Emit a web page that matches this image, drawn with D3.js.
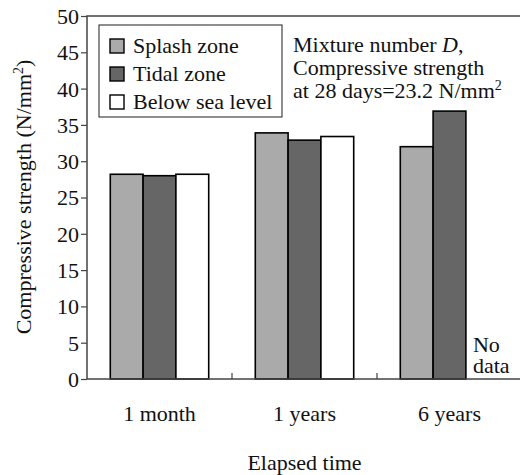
<!DOCTYPE html>
<html>
<head>
<meta charset="utf-8">
<script src="https://cdn.jsdelivr.net/npm/d3@7"></script>
</head>
<body style="margin:0;background:#fff">
<svg id="chart" width="520" height="475" font-family="Liberation Serif, Tinos, Times New Roman, FreeSerif, sans-serif"></svg>
<script>
// data
const periods = ["1 month", "1 years", "6 years"]
const zones = ["Splash zone", "Tidal zone", "Below sea level"]
const splash = [28.2, 33.9, 32.0]
const tidal = [28.0, 32.9, 36.9]
const below = [28.2, 33.4, null]   // no data at 6 years
const yTicks = [0, 5, 10, 15, 20, 25, 30, 35, 40, 45, 50]

const fills = ["#aaaaaa", "#666666", "#ffffff"]
const series = [splash, tidal, below]

const svg = d3.select("#chart")
const margin = { top: 16, right: -2, bottom: 96, left: 87 }
const width = 520, height = 475
const fs = 22

const x = d3.scaleBand()
    .domain(periods)
    .range([margin.left, width - margin.right])
    .padding(0)

const x1 = d3.scaleBand()
    .domain(zones)
    .range([0, x.bandwidth()])
    .paddingInner(0)
    .paddingOuter(0.71)

const y = d3.scaleLinear()
    .domain([0, 50])
    .range([height - margin.bottom, margin.top])

// bars
const rows = []
periods.forEach(function(p, i){
    zones.forEach(function(z, j){
        if (series[j][i] != null) rows.push({ p: p, z: z, v: series[j][i], fill: fills[j] })
    })
})

svg.append("g")
    .selectAll("rect")
    .data(rows)
    .enter()
    .append("rect")
    .attr("x", d => x(d.p) + x1(d.z))
    .attr("y", d => y(d.v))
    .attr("width", x1.bandwidth())
    .attr("height", d => y(0) - y(d.v))
    .attr("fill", d => d.fill)
    .attr("stroke", "#000")
    .attr("stroke-width", 1.6)

// frame
svg.append("rect")
    .attr("x", margin.left)
    .attr("y", margin.top)
    .attr("width", width - margin.right - margin.left)
    .attr("height", y(0) - margin.top)
    .attr("fill", "none")
    .attr("stroke", "#444")
    .attr("stroke-width", 1.5)

// y axis
const yAxis = svg.append("g")
    .attr("transform", `translate(${margin.left},0)`)
    .call(d3.axisLeft(y).tickValues(yTicks).tickSize(6).tickPadding(2))
yAxis.attr("font-family", null).attr("font-size", null)
yAxis.select(".domain").remove()
yAxis.selectAll("line").attr("stroke", "#444").attr("stroke-width", 1.2)
yAxis.selectAll("text").attr("dy", "0.34em")

// x axis: small inward ticks between groups, labels under group centres
svg.append("g")
    .selectAll("line")
    .data(periods.slice(1))
    .enter()
    .append("line")
    .attr("x1", d => x(d)).attr("x2", d => x(d))
    .attr("y1", y(0)).attr("y2", y(0) - 6)
    .attr("stroke", "#444")
    .attr("stroke-width", 1.2)

svg.append("g")
    .selectAll("text")
    .data(periods)
    .enter()
    .append("text")
    .attr("x", d => x(d) + x.bandwidth() / 2)
    .attr("y", 421)
    .attr("text-anchor", "middle")
    .text(d => d)

svg.append("text")
    .attr("x", x(periods[1]) + x.bandwidth() / 2)
    .attr("y", 470)
    .attr("text-anchor", "middle")
    .text("Elapsed time")

const yl = svg.append("text")
    .attr("transform", "translate(31,197) rotate(-90)")
    .attr("text-anchor", "middle")
yl.append("tspan").text("Compressive strength (N/mm")
yl.append("tspan").attr("class", "sup").attr("dy", -8).text("2")
yl.append("tspan").attr("dy", 8).text(")")

// legend
const legend = svg.append("g")
legend.append("rect")
    .attr("x", 99).attr("y", 25)
    .attr("width", 183).attr("height", 92)
    .attr("fill", "#fff")
    .attr("stroke", "#444")
    .attr("stroke-width", 1.2)

const li = legend.selectAll("g.item")
    .data(zones)
    .enter()
    .append("g")
    .attr("class", "item")
    .attr("transform", (d, i) => `translate(110,${39 + i * 28})`)
li.append("rect")
    .attr("width", 14).attr("height", 14)
    .attr("fill", (d, i) => fills[i])
    .attr("stroke", "#000")
    .attr("stroke-width", 1.4)
li.append("text")
    .attr("x", 23).attr("y", 14)
    .text(d => d)

// note
const note = svg.append("g")
const n1 = note.append("text").attr("x", 293).attr("y", 52)
n1.append("tspan").text("Mixture number ")
n1.append("tspan").attr("font-style", "italic").text("D")
n1.append("tspan").text(",")
note.append("text").attr("x", 293).attr("y", 75).text("Compressive strength")
const n3 = note.append("text").attr("x", 293).attr("y", 98)
n3.append("tspan").text("at 28 days=23.2 N/mm")
n3.append("tspan").attr("class", "sup").attr("dy", -8).text("2")

// no data label in the empty slot, one text in two lines
const slot = x(periods[2]) + x1(zones[2])
const nd = svg.append("text").attr("y", 352)
nd.append("tspan").attr("x", slot + 7).text("No")
nd.append("tspan").attr("x", slot + 7).attr("dy", 21).text("data")

// one serif face for every label
svg.selectAll("text")
    .attr("font-family", "Liberation Serif, Tinos, Times New Roman, FreeSerif, sans-serif")
    .attr("font-size", fs)
    .attr("fill", "#111")
svg.selectAll("tspan.sup").attr("font-size", 14)
</script>
</body>
</html>
